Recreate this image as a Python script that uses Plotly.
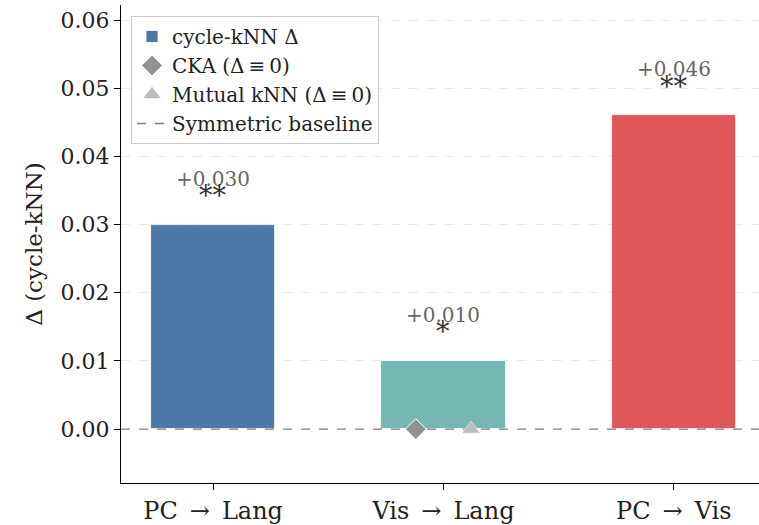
import plotly.graph_objects as go

categories = ["PC\u2002\u2192\u2002Lang", "Vis\u2002\u2192\u2002Lang", "PC\u2002\u2192\u2002Vis"]
deltas = [0.030, 0.010, 0.046]
stars = ["**", "*", "**"]
bar_colors = ["#4e79a7", "#76b7b2", "#e15759"]
cka_delta = [0.0]
mknn_delta = [0.0]
marker_category_index = 1
marker_offset = 0.12
y_ticks = [0.00, 0.01, 0.02, 0.03, 0.04, 0.05, 0.06]
x_range = [-0.4, 2.37]
y_range = [-0.0079, 0.0622]

FONT = "DejaVu Serif"
xs = list(range(len(categories)))

fig = go.Figure()
fig.add_trace(go.Bar(
    x=xs, y=deltas, width=0.54, marker=dict(color=bar_colors, line=dict(color="white", width=0.8)),
    name="cycle-kNN \u0394", legendgroup="a", legendrank=1, showlegend=True,
))
fig.add_trace(go.Scatter(
    x=x_range, y=[0, 0], mode="lines",
    line=dict(color="#808080", width=1.3, dash="dash"),
    name="Symmetric baseline", legendgroup="d", legendrank=4,
))
fig.add_trace(go.Scatter(
    x=[marker_category_index - marker_offset], y=cka_delta, mode="markers",
    marker=dict(symbol="diamond", size=16, color="#919191", line=dict(color="white", width=1)),
    name="CKA (\u0394\u2009\u2261\u20090)", legendgroup="b", legendrank=2, cliponaxis=False,
))
fig.add_trace(go.Scatter(
    x=[marker_category_index + marker_offset], y=mknn_delta, mode="markers",
    marker=dict(symbol="triangle-up", size=16, color="#bdbdbd", line=dict(color="white", width=0.5)),
    name="Mutual kNN (\u0394\u2009\u2261\u20090)", legendgroup="c", legendrank=3, cliponaxis=False,
))

for x, v, s in zip(xs, deltas, stars):
    fig.add_annotation(x=x, y=v, text=f"+{v:.3f}", showarrow=False, yanchor="middle",
                       yshift=46, font=dict(family=FONT, size=20, color="#666666"))
    fig.add_annotation(x=x, y=v, text=s, showarrow=False, yanchor="middle",
                       yshift=29, font=dict(family=FONT, size=27, color="#333333"))

fig.update_layout(
    width=759, height=525,
    margin=dict(l=121, r=0, t=5, b=42),
    plot_bgcolor="white", paper_bgcolor="white",
    font=dict(family=FONT, size=20, color="#222222"),
    showlegend=True,
    legend=dict(
        x=0.0157, y=0.977, xanchor="left", yanchor="top",
        bordercolor="#cccccc", borderwidth=1, bgcolor="rgba(255,255,255,0.9)",
        font=dict(family=FONT, size=20, color="#222222"),
        tracegroupgap=10, traceorder="normal",
    ),
    bargap=0,
)
fig.update_xaxes(
    range=x_range, tickmode="array", tickvals=xs, ticktext=categories,
    showline=True, linecolor="black", linewidth=1.3,
    ticks="outside", ticklen=6, tickcolor="black", showgrid=False, zeroline=False,
    tickfont=dict(size=24, color="#222222"),
)
fig.update_yaxes(
    range=y_range, tickmode="array", tickvals=y_ticks, tickformat=".2f",
    showline=True, linecolor="black", linewidth=1.3,
    ticks="outside", ticklen=6, tickcolor="black",
    showgrid=True, gridcolor="#e8e8e8", griddash="dash", gridwidth=1, zeroline=False,
    title=dict(text="\u0394 (cycle-kNN)", font=dict(size=23, color="#222222"), standoff=11),
    tickfont=dict(size=22, color="#222222"),
)

fig.write_html("out.html")
